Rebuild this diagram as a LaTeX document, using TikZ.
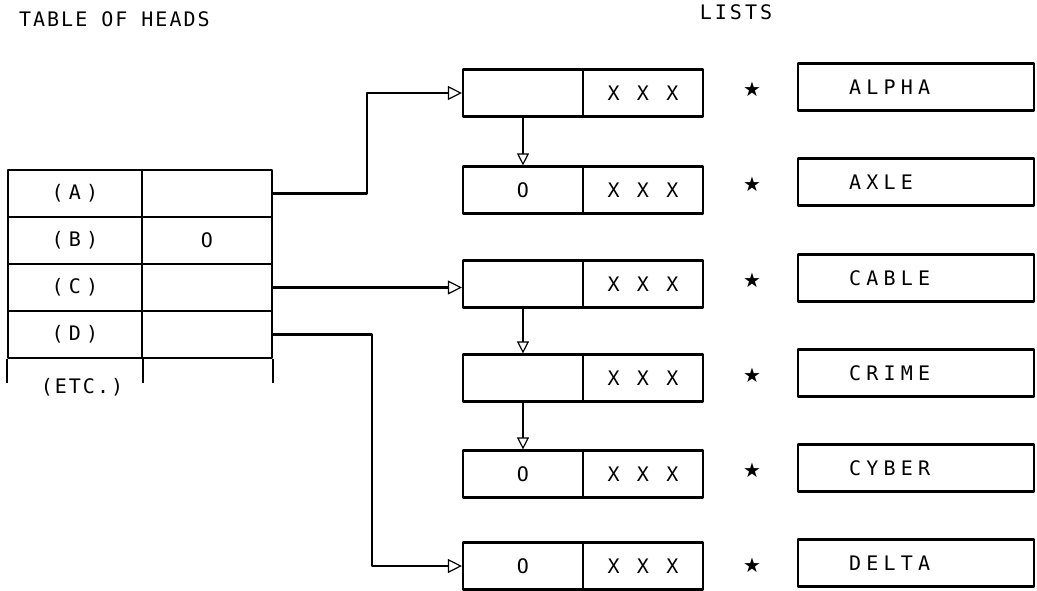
\documentclass[tikz,border=0pt]{standalone}
\usepackage{fontspec}
\usetikzlibrary{arrows.meta}
\newfontfamily\boxfont[LetterSpace=26]{DejaVu Sans Mono}
\newfontfamily\titlefont[LetterSpace=10]{DejaVu Sans Mono}
\newfontfamily\listsfont[LetterSpace=15]{DejaVu Sans Mono}
\newfontfamily\symfont{DejaVu Sans}
\begin{document}
\begin{tikzpicture}[x=1pt,y=-1pt,line width=2.2pt,line join=round,
  cellbase/.style={draw,rectangle,inner sep=0pt,minimum height=47pt,font={\fontsize{20pt}{22pt}\boxfont}},
  tabl/.style={cellbase,minimum width=134pt},
  tabr/.style={cellbase,minimum width=130pt},
  lcell/.style={cellbase,minimum width=120pt},
  ncell/.style={cellbase,minimum width=236pt},
  ntext/.style={anchor=west,inner sep=0pt,font={\fontsize{20pt}{22pt}\boxfont}},
  titletext/.style={inner sep=0pt,font={\fontsize{20pt}{22pt}\titlefont}},
  starmark/.style={inner sep=0pt,font={\fontsize{20pt}{22pt}\symfont}},
  arr/.style={-{Triangle[open,length=14pt,width=14pt,line width=1.2pt]}},
  varr/.style={-{Triangle[open,length=12pt,width=12pt,line width=1.2pt]}}]
\useasboundingbox (0,0) rectangle (1037,590);
% titles
\node[titletext,anchor=west] (title) at (18,19) {TABLE OF HEADS};
\node[inner sep=0pt,font={\fontsize{20pt}{22pt}\listsfont}] (lists) at (736,12) {LISTS};
% table of heads
\node[tabl] (tAl) at (75,193.5) {(A)};
\node[tabr] (tAr) at (207,193.5) {};
\node[tabl] (tBl) at (75,240.5) {(B)};
\node[tabr] (tBr) at (207,240.5) {O};
\node[tabl] (tCl) at (75,287.5) {(C)};
\node[tabr] (tCr) at (207,287.5) {};
\node[tabl] (tDl) at (75,334.5) {(D)};
\node[tabr] (tDr) at (207,334.5) {};
\draw (tDl.south west) -- ++(0,24);
\draw (tDl.south east) -- ++(0,24);
\draw (tDr.south east) -- ++(0,24);
\node[titletext] (etc) at (82,387) {(ETC.)};
% lists
\foreach \n/\y/\o in {a/93/{},b/190/O,c/284/{},d/378/{},e/474/O,f/566/O}{
  \node[lcell] (\n1) at (523,\y) {\o};
  \node[lcell] (\n2) at (643,\y) {X X X};
}
% names
\foreach \n/\y/\t in {a/87/ALPHA,b/182/AXLE,c/278/CABLE,d/373/CRIME,e/468/CYBER,f/563/DELTA}{
  \node[ncell] (\n3) at (916,\y) {};
  \node[ntext] (\n4) at (848,\y) {\t};
  \node[starmark] (\n5) at (752,\y+2) {★};
}
% connectors
\draw[arr] (tAr.east) -- ++(94,0) |- (a1.west);
\draw[arr] (tCr.east) -- (tCr.east -| c1.west);
\draw[arr] (tDr.east) -- ++(99,0) |- (f1.west);
\draw[varr] (a1.south) -- (b1.north);
\draw[varr] (c1.south) -- (d1.north);
\draw[varr] (d1.south) -- (e1.north);
\end{tikzpicture}
\end{document}
